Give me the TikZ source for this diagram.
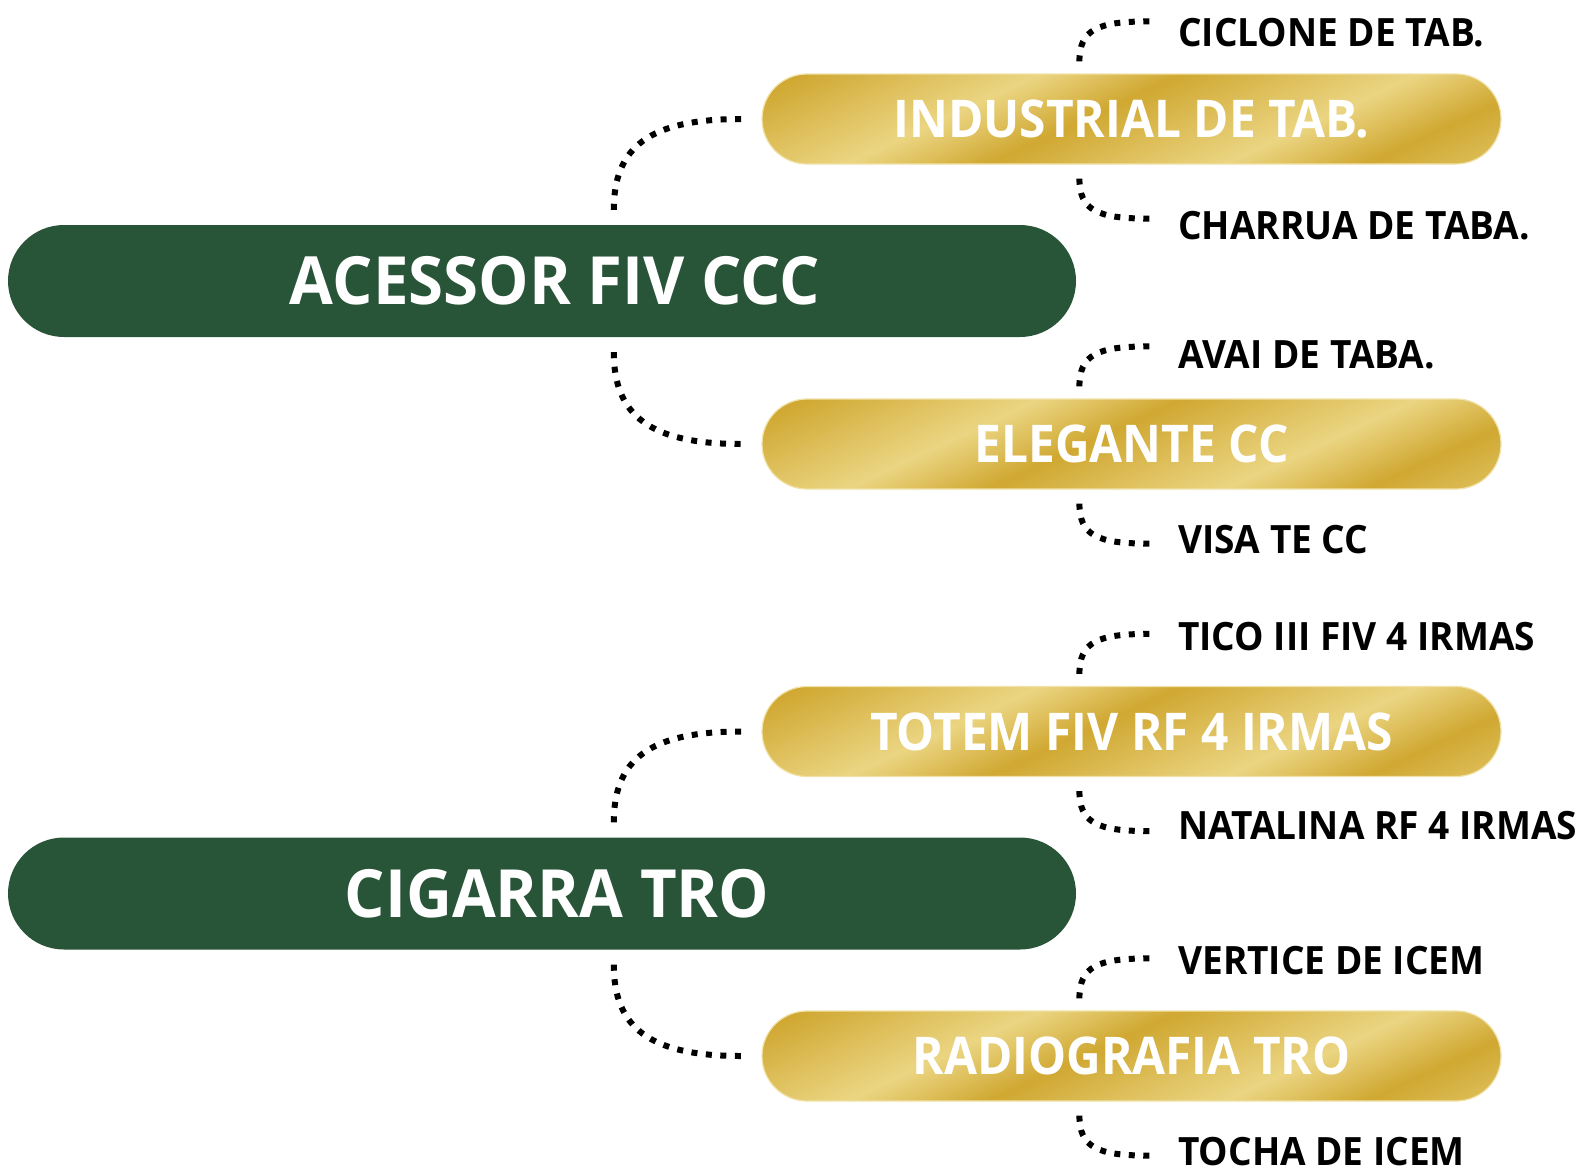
\documentclass[tikz,border=0pt]{standalone}
\usepackage{fontspec}
\setmainfont{Open Sans}[FakeStretch=0.95]
\newfontfamily\greenfont{Open Sans}[FakeStretch=0.955]
\newfontfamily\goldfont{Open Sans}[FakeStretch=0.92]
\usetikzlibrary{calc}
\definecolor{gD}{RGB}{208,168,50}
\definecolor{gL}{RGB}{235,213,130}
\definecolor{deepgreen}{RGB}{40,84,56}
\definecolor{goldedge}{RGB}{240,226,168}
\pgfdeclarehorizontalshading{goldbands}{100bp}{color(0bp)=(gD); color(25bp)=(gD); color(30bp)=(gL); color(33bp)=(gD); color(38bp)=(gL); color(41bp)=(gD); color(46bp)=(gL); color(49bp)=(gD); color(54bp)=(gL); color(57bp)=(gD); color(62bp)=(gL); color(65bp)=(gD); color(70bp)=(gL); color(73bp)=(gD); color(100bp)=(gD)}
\begin{document}
\begin{tikzpicture}[x=1pt,y=-1pt,
  greenpill/.style={fill=deepgreen, rounded corners=56pt, minimum width=1068pt, minimum height=112pt, inner sep=0pt, text=white, font=\greenfont\fontsize{66.5}{70}\selectfont\bfseries},
  goldpill/.style={draw=goldedge, line width=1.2pt, rounded corners=45pt, minimum width=739pt, minimum height=90pt, inner sep=0pt, text=white, font=\goldfont\fontsize{52}{56}\selectfont\bfseries,
    path picture={\begin{scope}[transform canvas={rotate around={-65:(path picture bounding box.center)}}]
      \shade[shading=goldbands] ([shift={(-500,-500)}]path picture bounding box.center) rectangle ([shift={(500,500)}]path picture bounding box.center);
      \end{scope}}},
  leaf/.style={anchor=west, inner sep=0pt, font=\fontsize{39}{42}\selectfont\bfseries, text=black},
  dots/.style={line width=6pt, dash pattern=on 6pt off 8.5pt, black},
]
\useasboundingbox (0,0) rectangle (1592,1173);

% main pills
\node[greenpill] (A) at (542,281) {\hspace*{26pt}ACESSOR FIV CCC};
\node[greenpill] (B) at (542,893.5) {\hspace*{30pt}CIGARRA TRO};

% gold pills
\node[goldpill] (I) at (1131.5,119) {INDUSTRIAL DE TAB.};
\node[goldpill] (E) at (1131.5,444) {ELEGANTE CC};
\node[goldpill] (T) at (1131.5,731.5) {TOTEM FIV RF 4 IRMAS};
\node[goldpill] (R) at (1131.5,1056) {RADIOGRAFIA TRO};

% leaves
\node[leaf] (i1) at (1178,32.5) {CICLONE DE TAB.};
\node[leaf] (i2) at (1178,226) {CHARRUA DE TABA.};
\node[leaf] (e1) at (1178,355) {AVAI DE TABA.};
\node[leaf] (e2) at (1178,540) {VISA TE CC};
\node[leaf] (t1) at (1178,636.6) {TICO III FIV 4 IRMAS};
\node[leaf] (t2) at (1178,825.4) {NATALINA RF 4 IRMAS};
\node[leaf] (r1) at (1178,961) {VERTICE DE ICEM};
\node[leaf] (r2) at (1178,1152) {TOCHA DE ICEM};

% big connectors
\foreach \g/\u/\d in {A/I/E, B/T/R}{
  \draw[dots] ([shift={(606,-15)}]\g.north west) .. controls +(0,-63) and +(-92,0) .. ([xshift=-20pt]\u.west);
  \draw[dots] ([shift={(606,15)}]\g.south west) .. controls +(0,63) and +(-92,0) .. ([xshift=-20pt]\d.west);
}

% small connectors
\foreach \p in {I,E,T,R}{
  \coordinate (\p top) at ([shift={(388,-52)}]\p.north west);
  \coordinate (\p bot) at ([shift={(388,54)}]\p.south west);
  \draw[dots] ([shift={(318,-12)}]\p.north west) .. controls +(0,-32) and +(-52,0) .. (\p top);
  \draw[dots] ([shift={(318,14)}]\p.south west) .. controls +(0,32) and +(-52,0) .. (\p bot);
}
\end{tikzpicture}
\end{document}
